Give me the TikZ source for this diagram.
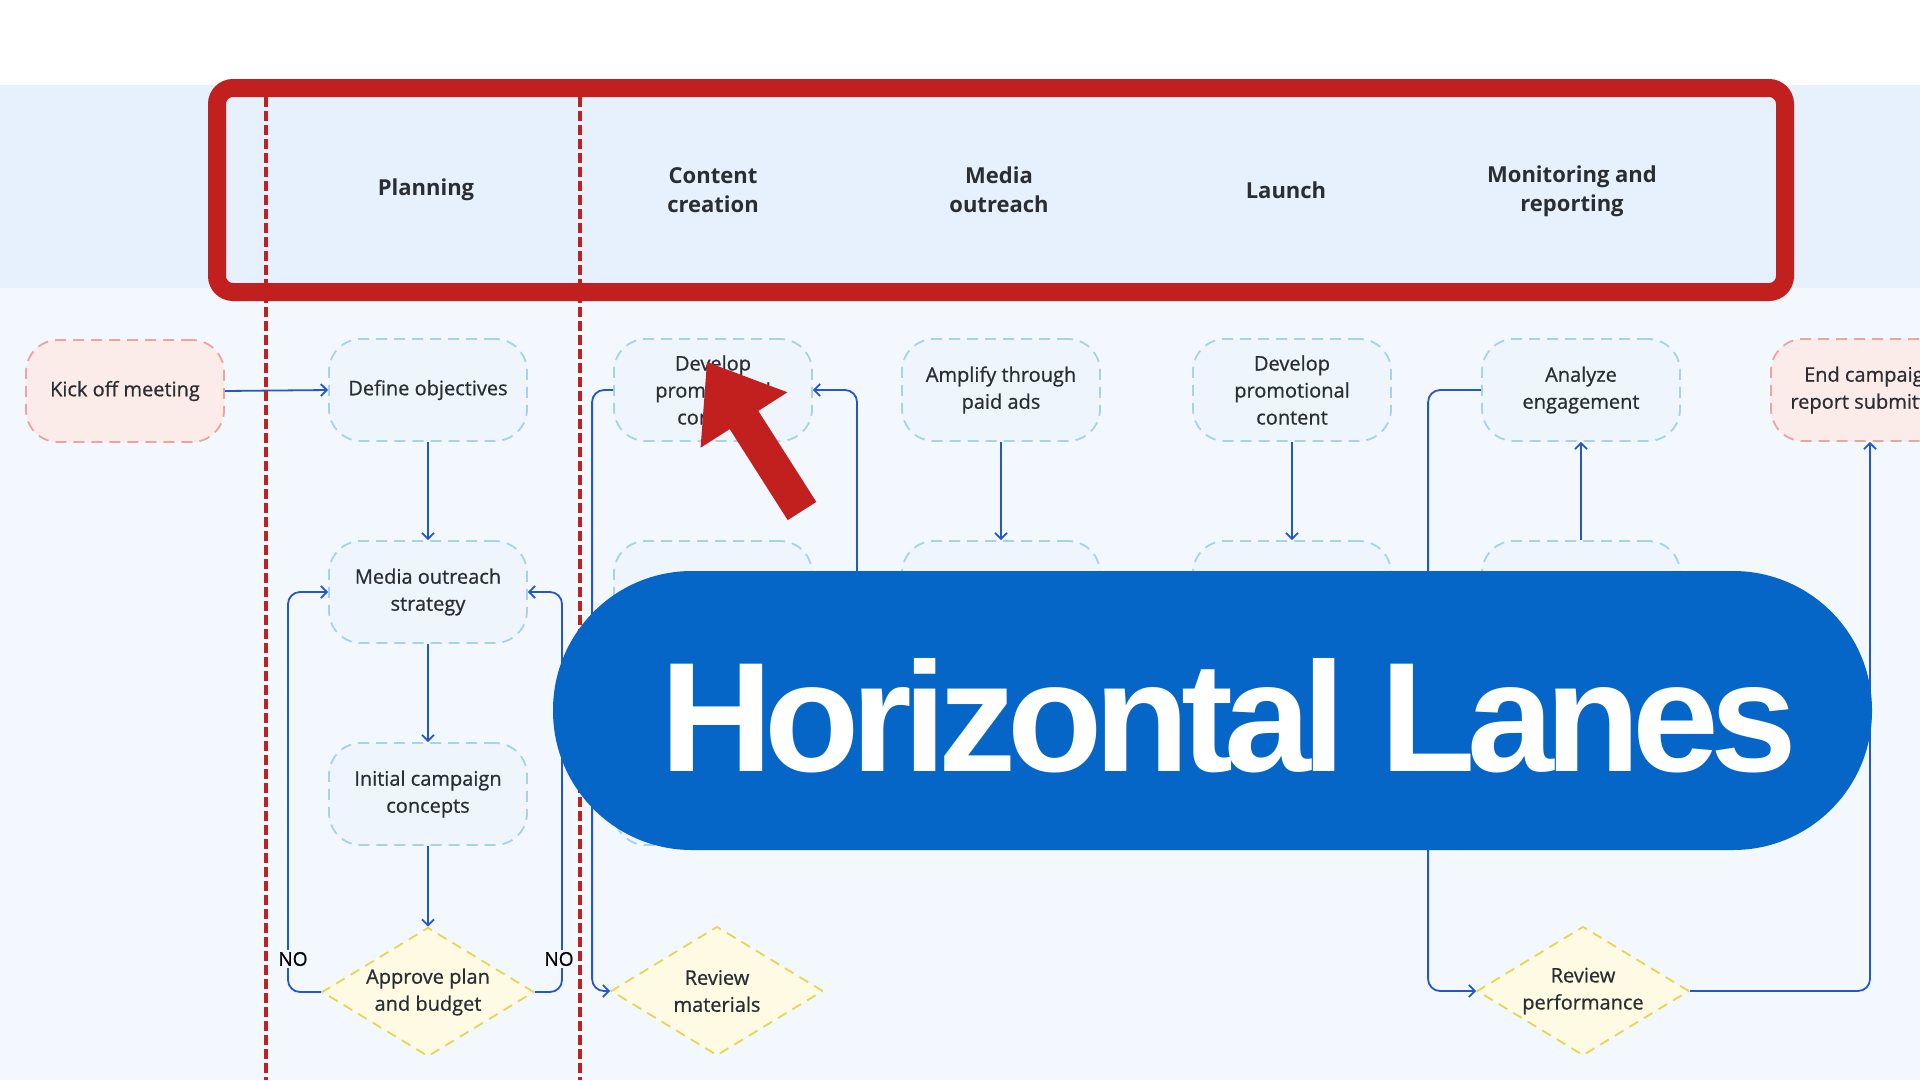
\documentclass[tikz,border=0pt]{standalone}
\usepackage{fontspec}
\setmainfont{Open Sans}
\newfontfamily\nodefont[FakeBold=0.7]{Open Sans}
\newfontfamily\bannerfont[LetterSpace=-5.5]{Liberation Sans}
\usetikzlibrary{shapes.geometric,arrows.meta,calc}
\definecolor{hdrbg}{HTML}{E7F0FD}
\definecolor{bodybg}{HTML}{F3F7FE}
\definecolor{boxfill}{HTML}{EEF5FD}
\definecolor{boxline}{HTML}{A8D2E6}
\definecolor{pinkfill}{HTML}{FCECE9}
\definecolor{pinkline}{HTML}{E8A6A0}
\definecolor{dfill}{HTML}{FEFAE3}
\definecolor{dline}{HTML}{E6D655}
\definecolor{linkblue}{HTML}{2458C6}
\definecolor{txt}{HTML}{2A2D31}
\definecolor{redm}{HTML}{C21F1F}
\definecolor{bannerblue}{HTML}{0566C8}
\begin{document}
\begin{tikzpicture}[x=1pt,y=-1pt,
  proc/.style={draw=boxline, fill=boxfill, line width=1.8pt, dash pattern=on 11pt off 7pt,
    rounded corners=32pt, minimum width=198pt, minimum height=102pt, align=center,
    text=txt, font=\nodefont\fontsize{20}{27}\selectfont, inner sep=0pt},
  term/.style={proc, draw=pinkline, fill=pinkfill},
  dec/.style={diamond, draw=dline, fill=dfill, line width=1.8pt, dash pattern=on 10pt off 7pt,
    minimum width=212pt, minimum height=129pt, shape aspect=1.65, inner sep=0pt,
    align=center, text=txt, font=\nodefont\fontsize{20}{27}\selectfont},
  conn/.style={draw=linkblue, line width=1.8pt, rounded corners=12pt,
    -{Straight Barb[length=6pt,width=12pt]}},
  hdr/.style={font=\fontsize{22}{29}\selectfont\bfseries, text=txt, align=center},
  nolab/.style={fill=bodybg, inner sep=2pt, font=\nodefont\fontsize{19}{22}\selectfont, text=black},
  redline/.style={draw=redm, line width=4.5pt, dash pattern=on 10pt off 4pt}
]
\useasboundingbox (0,0) rectangle (1920,1080);
\clip (0,0) rectangle (1920,1080);
% backgrounds
\fill[white] (0,0) rectangle (1920,85);
\fill[hdrbg] (0,85) rectangle (1920,288);
\fill[bodybg] (0,288) rectangle (1920,1080);

% header labels
\node[hdr] (h1) at (426,190) {Planning};
\node[hdr] (h2) at (713,190) {Content\\creation};
\node[hdr] (h3) at (999,190) {Media\\outreach};
\node[hdr] (h4) at (1286,190) {Launch};
\node[hdr] (h5) at (1572,191) {Monitoring and\\reporting};

% nodes
\node[term] (kick) at (125,391) {Kick off meeting};
\node[proc] (def) at (428,390) {Define objectives};
\node[proc] (mos) at (428,592) {Media outreach\\strategy};
\node[proc] (icc) at (428,794) {Initial campaign\\concepts};
\node[dec] (apr) at (428,992) {Approve plan\\and budget};
\node[proc] (dev1) at (713,390) {Develop\\promotional\\content};
\node[proc] (c2r2) at (713,592) {};
\node[proc] (c2r3) at (713,794) {};
\node[dec] (rvm) at (717,991) {Review\\materials};
\node[proc] (amp) at (1001,390) {Amplify through\\paid ads};
\node[proc] (c3r2) at (1001,592) {};
\node[proc] (dev2) at (1292,390) {Develop\\promotional\\content};
\node[proc] (c4r2) at (1292,592) {};
\node[proc] (ana) at (1581,390) {Analyze\\engagement};
\node[proc] (c5r2) at (1581,592) {};
\node[dec] (rvp) at (1583,991) {Review\\performance};
\node[term] (endc) at (1870,390) {End campaign\\report submitted};

% connectors
\coordinate (nlx) at (288,0);
\coordinate (nrx) at (562,0);
\coordinate (hid1) at (857,760);
\draw[conn] (kick.east) -- (def.west);
\draw[conn] (def.south) -- (mos.north);
\draw[conn] (mos.south) -- (icc.north);
\draw[conn] (icc.south) -- (apr.north);
\draw[conn] (apr.west) -| (nlx |- mos.west) -- (mos.west);
\draw[conn] (apr.east) -| (nrx |- mos.east) -- (mos.east);
\node[nolab] (no1) at (293,959) {NO};
\node[nolab] (no2) at (559,959) {NO};
\draw[conn] (dev1.west) -- ++(-21,0) |- (rvm.west);
\draw[conn] (hid1) |- (dev1.east);
\draw[conn] (amp.south) -- (c3r2.north);
\draw[conn] (dev2.south) -- (c4r2.north);
\draw[conn] (c5r2.north) -- (ana.south);
\draw[conn] (ana.west) -- ++(-53,0) |- (rvp.west);
\draw[conn] (rvp.east) -| (endc.south);

% red annotation lines and frame
\draw[redline] (266,97) -- (266,1080);
\draw[redline] (580,97) -- (580,1080);
\draw[redm, line width=18pt, rounded corners=16pt] (217,88) rectangle (1785,292);

% banner
\fill[bannerblue, rounded corners=139pt] (553,571) rectangle (1872,850);
\node[font=\bannerfont\bfseries\fontsize{156}{160}\selectfont, text=white, anchor=base, inner sep=0pt] (ban) at (1229,771) {Horizontal Lanes};

% red pointer arrow
\fill[redm] (707,362) -- (787.4,392.3) -- (758.3,410.9) -- (816.3,501.9) -- (787.7,520.1) -- (729.7,429.1) -- (700.6,447.7) -- cycle;
\end{tikzpicture}
\end{document}
